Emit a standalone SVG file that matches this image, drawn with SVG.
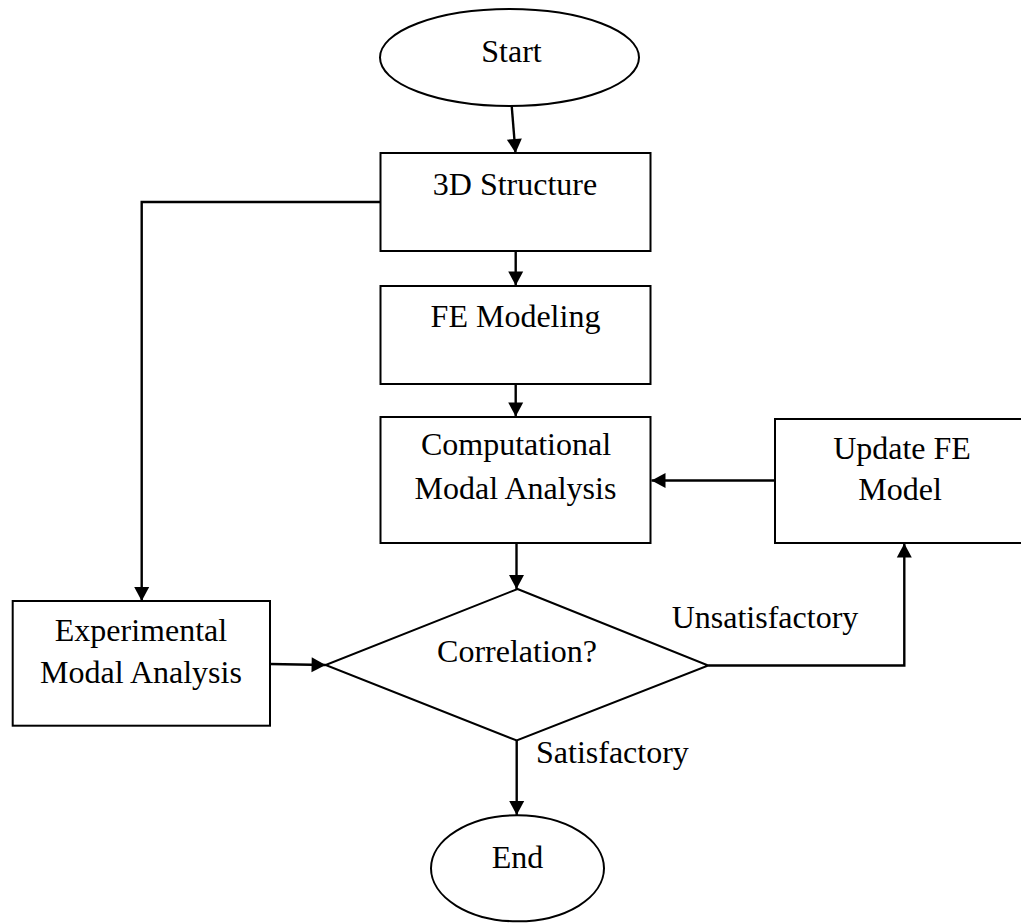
<svg xmlns="http://www.w3.org/2000/svg" width="1021" height="923" viewBox="0 0 1021 923">
<style>
.shape{fill:#fff;stroke:#000;stroke-width:2}
.conn{fill:none;stroke:#000;stroke-width:2.4}
text{font-family:"Liberation Serif","Times New Roman",serif;font-size:32px;fill:#000}
.c{text-anchor:middle}
</style>
<defs>
<marker id="ah" markerUnits="userSpaceOnUse" markerWidth="16" markerHeight="16" viewBox="0 0 16 16" refX="15" refY="8" orient="auto">
<path d="M1,0.5 L15,8 L1,15.5 Z" fill="#000"/>
</marker>
</defs>
<rect width="1021" height="923" fill="#fff"/>
<g id="connectors">
<line class="conn" x1="511.7" y1="106" x2="515.5" y2="153" marker-end="url(#ah)"/>
<line class="conn" x1="515.7" y1="251" x2="515.7" y2="285.5" marker-end="url(#ah)"/>
<line class="conn" x1="515.7" y1="384" x2="515.7" y2="416.5" marker-end="url(#ah)"/>
<line class="conn" x1="775" y1="480.5" x2="651.5" y2="480.5" marker-end="url(#ah)"/>
<line class="conn" x1="516.5" y1="543" x2="516.5" y2="589" marker-end="url(#ah)"/>
<polyline class="conn" points="380,202 141.7,202 141.7,601" marker-end="url(#ah)"/>
<line class="conn" x1="270" y1="664" x2="325.6" y2="665" marker-end="url(#ah)"/>
<polyline class="conn" points="708.3,665.5 904.3,665.5 904.3,543.5" marker-end="url(#ah)"/>
<line class="conn" x1="516.7" y1="740.5" x2="516.7" y2="815" marker-end="url(#ah)"/>
</g>
<g id="start">
<ellipse class="shape" cx="509.5" cy="57.5" rx="129.5" ry="48.5"/>
<text class="c" x="511.5" y="62">Start</text>
</g>
<g id="structure3d">
<rect class="shape" x="380.5" y="153" width="270" height="98"/>
<text class="c" x="515" y="194.5">3D Structure</text>
</g>
<g id="femodeling">
<rect class="shape" x="380.5" y="286" width="270" height="98"/>
<text class="c" x="515.5" y="327">FE Modeling</text>
</g>
<g id="computational">
<rect class="shape" x="380.5" y="417" width="270" height="126"/>
<text class="c" x="516" y="455">Computational</text>
<text class="c" x="515.5" y="499">Modal Analysis</text>
</g>
<g id="update">
<rect class="shape" x="775" y="419" width="252" height="124"/>
<text class="c" x="902" y="459">Update FE</text>
<text class="c" x="900" y="500">Model</text>
</g>
<g id="experimental">
<rect class="shape" x="12.7" y="601" width="257.3" height="124.7"/>
<text class="c" x="141" y="640.5">Experimental</text>
<text class="c" x="141" y="683">Modal Analysis</text>
</g>
<g id="correlation">
<polygon class="shape" points="517.5,589 708.3,665.5 516.7,740.5 325.6,665"/>
<text class="c" x="517" y="662">Correlation?</text>
</g>
<g id="end">
<ellipse class="shape" cx="517.5" cy="868.3" rx="86.5" ry="53"/>
<text class="c" x="517.5" y="867.5">End</text>
</g>
<g id="labels">
<text x="671.7" y="627.7">Unsatisfactory</text>
<text x="536" y="763">Satisfactory</text>
</g>
</svg>
